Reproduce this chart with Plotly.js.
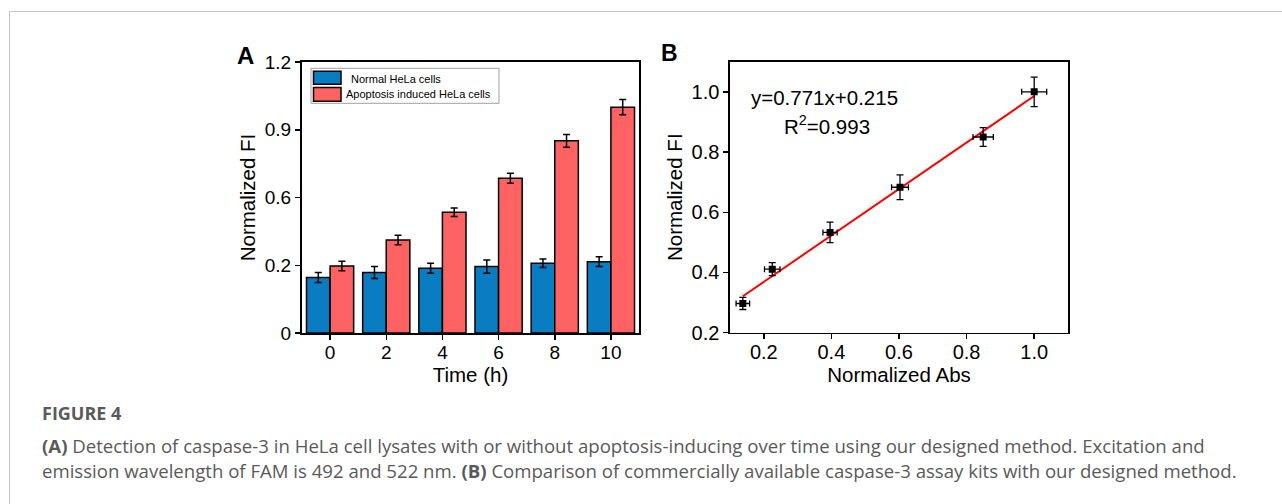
<!DOCTYPE html>
<html>
<head>
<meta charset="utf-8">
<script src="https://cdn.plot.ly/plotly-3.0.1.min.js"></script>
<style>
html,body{margin:0;padding:0;background:#fff;}
#chart{width:1282px;height:504px;}
</style>
</head>
<body>
<div id="chart"></div>
<script>
// ---------- Data ----------
const timeLabels = ["0", "2", "4", "6", "8", "10"];
const seriesNames = ["Normal HeLa cells", "Apoptosis induced HeLa cells"];
const normalFI = [0.246, 0.268, 0.287, 0.294, 0.309, 0.316];
const normalErr = [0.022, 0.027, 0.022, 0.029, 0.019, 0.022];
const apoptosisFI = [0.297, 0.412, 0.535, 0.685, 0.851, 1.0];
const apoptosisErr = [0.021, 0.021, 0.019, 0.022, 0.028, 0.034];
const yTickValsA = [0, 0.3, 0.6, 0.9, 1.2];
const yTickTextA = ["0", "0.2", "0.6", "0.9", "1.2"];

const absX = [0.138, 0.225, 0.396, 0.603, 0.849, 1.0];
const absXErr = [0.02, 0.023, 0.021, 0.025, 0.03, 0.037];
const fiY = [0.297, 0.411, 0.533, 0.683, 0.85, 1.0];
const fiYErr = [0.02, 0.0215, 0.034, 0.041, 0.031, 0.049];
const fitX = [0.138, 1.0];
const fitY = [0.321, 0.986];
const fitEquation = "y=0.771x+0.215";
const fitR2 = "R<sup>2</sup>=0.993";
const tickValsBX = [0.2, 0.4, 0.6, 0.8, 1.0];
const tickValsBY = [0.2, 0.4, 0.6, 0.8, 1.0];

const captionTitle = "FIGURE 4";
const captionLine1 = "<b>(A)</b> Detection of caspase-3 in HeLa cell lysates with or without apoptosis-inducing over time using our designed method. Excitation and";
const captionLine2 = "emission wavelength of FAM is 492 and 522 nm. <b>(B)</b> Comparison of commercially available caspase-3 assay kits with our designed method.";

// ---------- Layout helpers ----------
const W = 1282, H = 504;
const px = x => x / W;
const py = y => 1 - y / H;

const blue = "#0a7cc2";
const red = "#ff6262";
const chartFont = "Liberation Sans, Arial, sans-serif";
const captionFont = "Open Sans, sans-serif";

const traces = [
  {
    type: "bar", name: seriesNames[0], x: timeLabels, y: normalFI,
    marker: {color: blue, line: {color: "#000", width: 1.5}},
    error_y: {type: "data", array: normalErr, visible: true, color: "#000", thickness: 1.5, width: 3.5},
    xaxis: "x", yaxis: "y", showlegend: false
  },
  {
    type: "bar", name: seriesNames[1], x: timeLabels, y: apoptosisFI,
    marker: {color: red, line: {color: "#000", width: 1.5}},
    error_y: {type: "data", array: apoptosisErr, visible: true, color: "#000", thickness: 1.5, width: 3.5},
    xaxis: "x", yaxis: "y", showlegend: false
  },
  {
    type: "scatter", mode: "lines", x: fitX, y: fitY,
    line: {color: "#ff0000", width: 2},
    xaxis: "x2", yaxis: "y2", showlegend: false, hoverinfo: "skip"
  },
  {
    type: "scatter", mode: "markers", x: absX, y: fiY,
    marker: {symbol: "square", size: 7, color: "#000"},
    error_x: {type: "data", array: absXErr, visible: true, color: "#000", thickness: 1.3, width: 3},
    error_y: {type: "data", array: fiYErr, visible: true, color: "#000", thickness: 1.3, width: 3.5},
    xaxis: "x2", yaxis: "y2", showlegend: false
  }
];

const axisCommon = {
  showline: true, mirror: true, linecolor: "#000", linewidth: 2,
  ticks: "outside", ticklen: 5, tickwidth: 1.5, tickcolor: "#000",
  showgrid: false, zeroline: false,
  tickfont: {family: chartFont, size: 19, color: "#000"}
};
const titleFont = {family: chartFont, size: 20.5, color: "#000"};

const layout = {
  width: W, height: H,
  margin: {l: 0, r: 0, t: 0, b: 0},
  paper_bgcolor: "#fff", plot_bgcolor: "#fff",
  barmode: "group", bargap: 0.16, bargroupgap: 0,
  showlegend: false,
  font: {family: chartFont, color: "#000"},
  xaxis: Object.assign({}, axisCommon, {
    domain: [px(302), px(639)], anchor: "y",
    type: "category", range: [-0.5, 5.5], ticklabelstandoff: -4,
    title: {text: "Time (h)", font: titleFont, standoff: 0}
  }),
  yaxis: Object.assign({}, axisCommon, {
    domain: [py(333), py(62)], anchor: "x",
    range: [0, 1.2], tickvals: yTickValsA, ticktext: yTickTextA,
    title: {text: "Normalized FI", font: titleFont, standoff: 4}
  }),
  xaxis2: Object.assign({}, axisCommon, {
    domain: [px(730), px(1068)], anchor: "y2", linewidth: 1.6,
    range: [0.1, 1.1], tickvals: tickValsBX, tickformat: ".1f", ticklabelstandoff: -4,
    tickfont: {family: chartFont, size: 20, color: "#000"},
    title: {text: "Normalized Abs", font: titleFont, standoff: 2}
  }),
  yaxis2: Object.assign({}, axisCommon, {
    domain: [py(332.7), py(61.7)], anchor: "x2", linewidth: 1.6,
    range: [0.2, 1.1], tickvals: tickValsBY, tickformat: ".1f",
    tickfont: {family: chartFont, size: 20, color: "#000"},
    title: {text: "Normalized FI", font: titleFont, standoff: 3}
  }),
  shapes: [
    // page card border
    {type: "line", xref: "paper", yref: "paper", x0: px(9), x1: px(1282), y0: py(11.5), y1: py(11.5), line: {color: "#c4c4c4", width: 1}},
    {type: "line", xref: "paper", yref: "paper", x0: px(9.5), x1: px(9.5), y0: py(11.5), y1: 0, line: {color: "#c4c4c4", width: 1}},
    // legend box and swatches
    {type: "rect", xref: "paper", yref: "paper", x0: px(311), x1: px(499), y0: py(103.3), y1: py(68.3), line: {color: "#a0a0a0", width: 1}, fillcolor: "#fff"},
    {type: "rect", xref: "paper", yref: "paper", x0: px(313.5), x1: px(341), y0: py(84.3), y1: py(71.3), line: {color: "#000", width: 1.5}, fillcolor: blue},
    {type: "rect", xref: "paper", yref: "paper", x0: px(313.5), x1: px(341), y0: py(101.3), y1: py(87.5), line: {color: "#000", width: 1.5}, fillcolor: red}
  ],
  annotations: [
    {xref: "paper", yref: "paper", x: px(245.5), y: py(55), text: "<b>A</b>", showarrow: false, xanchor: "center", yanchor: "middle", font: {family: chartFont, size: 24, color: "#000"}},
    {xref: "paper", yref: "paper", x: px(669.5), y: py(53.5), text: "<b>B</b>", showarrow: false, xanchor: "center", yanchor: "middle", font: {family: chartFont, size: 23, color: "#000"}},
    {xref: "paper", yref: "paper", x: px(348.5), y: py(78.5), text: seriesNames[0], showarrow: false, xanchor: "left", yanchor: "middle", font: {family: chartFont, size: 11, color: "#000"}},
    {xref: "paper", yref: "paper", x: px(343.5), y: py(94), text: seriesNames[1], showarrow: false, xanchor: "left", yanchor: "middle", font: {family: chartFont, size: 11, color: "#000"}},
    {xref: "paper", yref: "paper", x: px(749), y: py(98), text: fitEquation, showarrow: false, xanchor: "left", yanchor: "middle", font: {family: chartFont, size: 20.5, color: "#000"}},
    {xref: "paper", yref: "paper", x: px(782), y: py(125), text: fitR2, showarrow: false, xanchor: "left", yanchor: "middle", font: {family: chartFont, size: 20.5, color: "#000"}},
    {xref: "paper", yref: "paper", x: px(40), y: py(413), text: "<b>" + captionTitle + "</b>", showarrow: false, xanchor: "left", yanchor: "middle", font: {family: captionFont, size: 18, color: "#5a5a5a"}},
    {xref: "paper", yref: "paper", x: px(40), y: py(445), text: captionLine1, showarrow: false, xanchor: "left", yanchor: "middle", font: {family: captionFont, size: 18.6, color: "#5a5a5a"}},
    {xref: "paper", yref: "paper", x: px(40), y: py(470), text: captionLine2, showarrow: false, xanchor: "left", yanchor: "middle", font: {family: captionFont, size: 18.6, color: "#5a5a5a"}}
  ]
};

Plotly.newPlot("chart", traces, layout, {staticPlot: true, displayModeBar: false});
</script>
</body>
</html>
